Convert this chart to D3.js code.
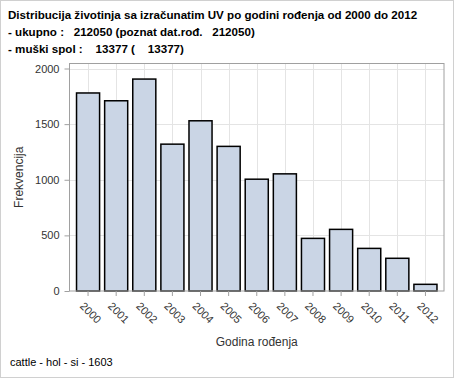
<!DOCTYPE html>
<html>
<head>
<meta charset="utf-8">
<script src="https://cdn.jsdelivr.net/npm/d3@7"></script>
<style>
  body { margin: 0; background: #fff; }
  text { font-family: Arial, "Liberation Sans", sans-serif; }
</style>
</head>
<body>
<div class="canva"></div>
<script>
// data
const years = ["2000","2001","2002","2003","2004","2005","2006","2007","2008","2009","2010","2011","2012"];
const counts = [1780, 1710, 1905, 1320, 1530, 1300, 1005, 1053, 473, 554, 383, 294, 60];
const yTicks = [0, 500, 1000, 1500, 2000];
const titleLines = [
  "Distribucija životinja sa izračunatim UV po godini rođenja od 2000 do 2012",
  "- ukupno :   212050 (poznat dat.rođ.   212050)",
  "- muški spol :    13377 (    13377)"
];

const width = 454, height = 378;
const plot = {left: 69.5, top: 63.5, right: 444, bottom: 291};

const svg = d3.select(".canva").append("svg")
  .attr("width", width)
  .attr("height", height);

// outer border
svg.append("rect")
  .attr("x", 0.5).attr("y", 0.5)
  .attr("width", width - 1).attr("height", height - 1)
  .attr("fill", "#fff")
  .attr("stroke", "#d0d0d0");

// titles
svg.selectAll("text.title")
  .data(titleLines)
  .enter().append("text")
  .attr("class", "title")
  .attr("x", 8)
  .attr("y", (d, i) => 18.5 + i * 17)
  .attr("font-size", 11.6)
  .attr("font-weight", "bold")
  .attr("fill", "#000")
  .style("white-space", "pre")
  .attr("xml:space", "preserve")
  .text(d => d);

const x = d3.scaleBand()
  .domain(years)
  .range([plot.left, plot.right])
  .paddingInner(0.18)
  .paddingOuter(0.25);

const y = d3.scaleLinear()
  .domain([0, 2000])
  .range([plot.bottom, 68.5]);

// gridlines
const grid = svg.append("g");
grid.selectAll("line.h")
  .data(yTicks.filter(d => d > 0))
  .enter().append("line")
  .attr("x1", plot.left).attr("x2", plot.right)
  .attr("y1", d => Math.round(y(d)) + 0.5)
  .attr("y2", d => Math.round(y(d)) + 0.5)
  .attr("stroke", "#e4e4e4");
grid.selectAll("line.v")
  .data(years)
  .enter().append("line")
  .attr("x1", d => Math.round(x(d) + x.bandwidth() / 2) + 0.5)
  .attr("x2", d => Math.round(x(d) + x.bandwidth() / 2) + 0.5)
  .attr("y1", plot.top).attr("y2", plot.bottom)
  .attr("stroke", "#e4e4e4");

// bars
svg.selectAll("rect.bar")
  .data(counts)
  .enter().append("rect")
  .attr("class", "bar")
  .attr("x", (d, i) => x(years[i]))
  .attr("y", d => y(d))
  .attr("width", x.bandwidth())
  .attr("height", d => plot.bottom - y(d))
  .attr("fill", "#cad5e5")
  .attr("stroke", "#000")
  .attr("stroke-width", 1.5);

// frame
svg.append("rect")
  .attr("x", plot.left).attr("y", plot.top)
  .attr("width", plot.right - plot.left)
  .attr("height", plot.bottom - plot.top)
  .attr("fill", "none")
  .attr("stroke", "#a0a0a0");

// y axis
const yAxis = svg.append("g")
  .attr("transform", `translate(${plot.left},0)`)
  .call(d3.axisLeft(y).tickValues(yTicks).tickFormat(d3.format("d")).tickSize(5).tickPadding(5));
yAxis.select(".domain").remove();
yAxis.selectAll(".tick line").attr("stroke", "#a0a0a0");
yAxis.selectAll(".tick text")
  .attr("font-size", 11)
  .attr("fill", "#333")
  .style("font-family", "Arial, 'Liberation Sans', sans-serif");

// x axis
const xAxis = svg.append("g")
  .attr("transform", `translate(0,${plot.bottom})`)
  .call(d3.axisBottom(x).tickSize(5).tickPadding(0));
xAxis.select(".domain").remove();
xAxis.selectAll(".tick line").attr("stroke", "#a0a0a0");
xAxis.selectAll(".tick text")
  .attr("font-size", 11)
  .attr("fill", "#333")
  .style("font-family", "Arial, 'Liberation Sans', sans-serif")
  .attr("text-anchor", "start")
  .attr("dy", null)
  .attr("dominant-baseline", "central")
  .attr("transform", "translate(-6,13) rotate(45)")
  .attr("y", 0);

// axis labels
svg.append("text")
  .attr("transform", `translate(23,${(plot.top + plot.bottom) / 2}) rotate(-90)`)
  .attr("text-anchor", "middle")
  .attr("font-size", 12)
  .attr("fill", "#333")
  .text("Frekvencija");

svg.append("text")
  .attr("x", (plot.left + plot.right) / 2)
  .attr("y", 346)
  .attr("text-anchor", "middle")
  .attr("font-size", 12)
  .attr("fill", "#333")
  .text("Godina rođenja");

// footnote
svg.append("text")
  .attr("x", 10)
  .attr("y", 366)
  .attr("font-size", 11)
  .attr("fill", "#000")
  .text("cattle - hol - si - 1603");
</script>
</body>
</html>
